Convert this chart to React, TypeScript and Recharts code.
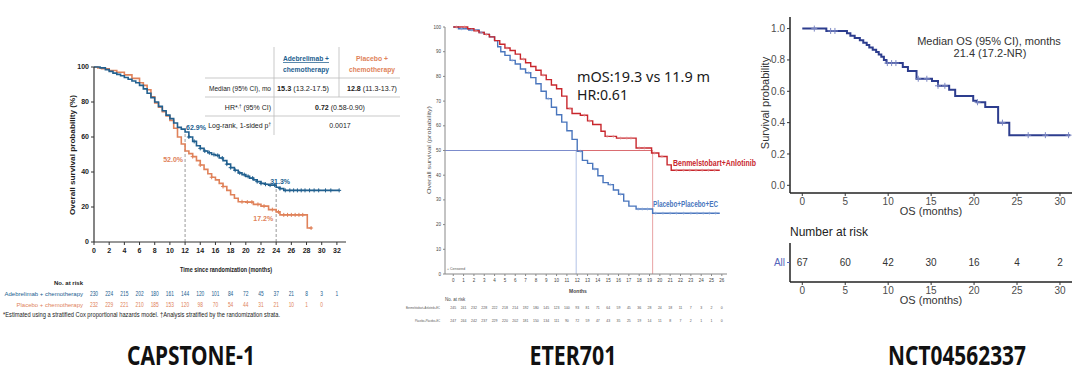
import React from 'react';
import {
  ComposedChart,
  Line,
  Scatter,
  XAxis,
  YAxis,
  ReferenceLine,
  ReferenceDot,
} from 'recharts';

// ---------- CAPSTONE-1 (months, OS %) ----------
const capAdeKm = [
  [0, 100], [0.8, 99.5], [1.5, 98.5], [2, 97.5], [2.5, 96.5], [3, 95.8], [3.5, 95], [4, 94],
  [4.5, 93], [5, 92], [5.5, 91], [6, 89.5], [6.5, 87.5], [7, 85], [7.5, 82.5], [8, 80],
  [8.5, 77.5], [9, 75], [9.5, 72.5], [10, 70.5], [10.5, 68], [11, 65.5], [11.5, 64.5],
  [12, 62.9], [12.5, 60], [13, 57.5], [13.5, 55], [14, 53.5], [14.5, 52], [15, 51],
  [15.5, 50], [16, 49.5], [16.5, 48], [17, 46.5], [17.5, 44.5], [18, 42.5], [18.5, 41],
  [19, 39.5], [19.5, 38.5], [20, 37.5], [20.5, 36.5], [21, 35.5], [21.5, 34.5], [22, 33.5],
  [22.5, 33], [23, 32.5], [24, 31.3], [24.5, 30.5], [25, 29.5], [32.3, 29.5],
];
const capPboKm = [
  [0, 100], [0.5, 99.5], [1, 99], [2, 98], [3, 97], [4, 95.5], [5, 93.5], [6, 91], [6.5, 89.5],
  [7, 87], [7.5, 83], [8, 79.5], [8.5, 77], [9, 74.5], [9.5, 72], [10, 69.5], [10.5, 65],
  [11, 60], [11.5, 56], [12, 52], [12.5, 50.5], [13, 48.8], [13.5, 46.5], [14, 44],
  [14.5, 41.5], [15, 39], [15.5, 37], [16, 35.5], [16.5, 33.5], [17, 31.7], [17.5, 29.5],
  [18, 27], [18.5, 25], [19, 23], [20, 22.8], [21, 21.5], [22, 20.5], [23, 18.5], [24, 17.2],
  [24.5, 15.5], [28, 15.5], [28.1, 8], [28.7, 8],
];
const capAdeCensor = [12.5, 13.2, 14, 14.6, 15.2, 15.8, 16.3, 16.9, 17.5, 18, 18.6, 19.2, 19.8, 20.3, 20.9, 21.5, 22, 22.6, 23.2, 23.8, 24.5, 25.2, 25.8, 26.3, 26.8, 27.3, 27.8, 28.4, 29, 29.6, 30.5, 31.2, 32.3];
const capPboCensor = [13, 14, 15.5, 17, 19.5, 20.2, 20.8, 21.6, 22.4, 23.5, 24.3, 25, 25.5, 26, 26.5, 27, 27.5, 28.6];
const capTicks = [0, 2, 4, 6, 8, 10, 12, 14, 16, 18, 20, 22, 24, 26, 28, 30, 32];
const capRiskAde = [230, 224, 215, 202, 180, 161, 144, 120, 101, 84, 72, 45, 37, 21, 8, 3, 1];
const capRiskPbo = [232, 229, 221, 210, 185, 153, 120, 98, 70, 54, 44, 31, 21, 10, 1, 0];
const capRiskLabels = ['No. at risk', 'Adebrelimab + chemotherapy', 'Placebo + chemotherapy'];

// ---------- ETER701 ----------
const eterBenKm = [
  [0, 100], [1.3, 100], [1.4, 99.3], [2, 98.5], [2.5, 97.8], [3, 97], [3.5, 96], [4, 94.5],
  [4.5, 93], [5, 91.5], [5.5, 90.5], [6, 89], [6.5, 87], [7, 85.5], [7.5, 84], [8, 82.5],
  [8.5, 80.5], [9, 78.7], [9.5, 76.5], [10, 75], [10.5, 72], [11, 67], [11.5, 65],
  [12.3, 64.3], [13, 62], [13.5, 60.5], [14.3, 57.8], [14.7, 55.7], [15.8, 55], [17.7, 51],
  [19.2, 49], [19.9, 47.6], [20.7, 44.2], [21.1, 42], [25.8, 42],
];
const eterPboKm = [
  [0, 100], [0.5, 99.3], [1.5, 98.8], [2.5, 97.8], [3, 97], [3.5, 96], [4, 94.5], [4.3, 92],
  [4.6, 90], [5, 88.5], [5.5, 86.5], [6, 85], [6.5, 83], [7, 81.5], [7.5, 79.5], [8, 77],
  [8.5, 74], [9, 71], [9.5, 67.5], [10, 64.5], [10.5, 61.5], [11, 58], [11.5, 54.5],
  [12, 49.7], [12.5, 46], [13, 44.8], [13.5, 42.5], [14, 39.8], [14.5, 37], [15, 36.2],
  [15.5, 34], [16, 32.3], [16.5, 29.5], [17, 27.5], [17.7, 26.3], [19.3, 24.6], [25.8, 24.6],
];
const eterBenCensor = [0.3, 1.1, 2.2, 3.2, 5.2, 6.8, 8.7, 11.3, 12.7, 13.2, 14.9, 15.5, 16.2, 16.8, 17.2, 18, 18.5, 19.5, 20.2, 21.6, 22.3, 22.9, 23.5, 24.1, 24.7, 25.3];
const eterPboCensor = [0.8, 1.8, 2.7, 5.7, 7.3, 9.2, 12.3, 13.7, 15.2, 16.2, 17.9, 18.3, 18.8, 19.6, 20.3, 21, 21.6, 22.3, 23, 23.6, 24.2, 24.8, 25.4];
const eterTicks = Array.from({ length: 27 }, (_, i) => i);
const eterYTicks = [0, 10, 20, 30, 40, 50, 60, 70, 80, 90, 100];
const eterRiskBen = [245, 241, 232, 228, 222, 218, 214, 192, 180, 145, 123, 100, 93, 81, 71, 64, 59, 45, 36, 28, 24, 18, 11, 7, 3, 2, 0];
const eterRiskPbo = [247, 244, 242, 237, 229, 220, 202, 181, 150, 134, 111, 90, 72, 59, 47, 43, 35, 25, 19, 14, 11, 8, 7, 2, 1, 1, 0];
const eterRiskLabels = ['', 'Benmelstobart+Anlotinib+EC', 'Placebo+Placebo+EC'];
const eterMedians = { ben: 19.3, pbo: 11.9 };

// ---------- NCT04562337 ----------
const nctKm = [
  [0, 1], [2.8, 0.985], [5.2, 0.97], [5.6, 0.955], [6.1, 0.94], [6.7, 0.925], [7.1, 0.91],
  [7.5, 0.895], [7.8, 0.88], [8.2, 0.865], [8.6, 0.85], [8.9, 0.835], [9.2, 0.82], [9.5, 0.8],
  [9.8, 0.78], [11.7, 0.755], [12.3, 0.73], [13.3, 0.68], [15.1, 0.665], [15.8, 0.635],
  [17.1, 0.61], [17.8, 0.57], [19.9, 0.54], [20.3, 0.53], [21.3, 0.5], [22.8, 0.4],
  [24.1, 0.32], [31.2, 0.32],
];
const nctCensor = [1.4, 3.3, 3.8, 9.9, 10.4, 10.9, 13.5, 14.5, 15.8, 16.6, 20.4, 23.3, 26.3, 28.3, 31];
const nctTicks = [0, 5, 10, 15, 20, 25, 30];
const nctYTicks = [0, 0.2, 0.4, 0.6, 0.8, 1.0];
const nctRisk = [67, 60, 42, 30, 16, 4, 2];

type Pt = { t: number; s: number };
const toPts = (arr: number[][]): Pt[] => arr.map(([t, s]) => ({ t, s }));
const stepAt = (km: Pt[], t: number) => {
  let v = km[0].s;
  for (const p of km) {
    if (p.t <= t) v = p.s;
    else break;
  }
  return v;
};
const censorPts = (km: Pt[], times: number[]) => times.map((t) => ({ t, s: stepAt(km, t) }));
const riskRow = (months: number[], counts: number[], row: number) =>
  counts.map((n, i) => ({ t: months[i], row, n }));

const capAde = toPts(capAdeKm);
const capPbo = toPts(capPboKm);
const eterBen = toPts(eterBenKm);
const eterPbo = toPts(eterPboKm);
const nct = toPts(nctKm);

const CAP_BLUE = '#22608f';
const CAP_ORANGE = '#e0825a';
const ETER_RED = '#c8262c';
const ETER_BLUE = '#4a76bd';
const NCT_BLUE = '#2d3d8e';
const NARROW = "'Liberation Sans Narrow', 'Arial Narrow', 'Liberation Sans', Arial, sans-serif";
const SANS = "'Liberation Sans', Arial, sans-serif";

const plus = (color: string, size: number, width = 0.8) => (p: any) => (
  <path
    d={`M${p.cx - size},${p.cy}H${p.cx + size}M${p.cx},${p.cy - size}V${p.cy + size}`}
    stroke={color}
    strokeWidth={width}
    fill="none"
  />
);

const countText = (color: string, size: number, family: string) => (p: any) => (
  <text x={p.cx} y={p.cy} dy="0.35em" textAnchor="middle" fontSize={size} fill={color} fontFamily={family}>
    {p.payload.n}
  </text>
);

// narrow risk numbers (the original uses a condensed face)
const narrowCount = (color: string) => (p: any) => {
  const s = String(p.payload.n);
  return (
    <text x={p.cx} y={p.cy} dy="0.35em" textAnchor="middle" fontSize={7} fill={color} fontFamily={NARROW} textLength={s.length * 2.7} lengthAdjust="spacingAndGlyphs">
      {s}
    </text>
  );
};

const pctLabel = (text: string, color: string, dx: number, dy: number, anchor: string) => (p: any) => (
  <text x={p.cx + dx} y={p.cy + dy} textAnchor={anchor} fontSize={7} fontWeight={700} fill={color} fontFamily={NARROW}>
    {text}
  </text>
);

function CapRiskTick(props: any) {
  const { x, y, payload } = props;
  const i = payload.value as number;
  const fill = i === 0 ? '#222' : i === 1 ? CAP_BLUE : CAP_ORANGE;
  return (
    <text x={x - 3} y={y} dy="0.35em" textAnchor="end" fontSize={6} fontWeight={i === 0 ? 700 : 400} fill={fill} fontFamily={NARROW}>
      {capRiskLabels[i]}
    </text>
  );
}

function EterRiskTick(props: any) {
  const { x, y, payload } = props;
  const i = payload.value as number;
  return (
    <text x={x} y={y} dy="0.35em" textAnchor="end" fontSize={3.5} fill="#555" fontFamily={NARROW} textLength={i === 1 ? 34 : 25} lengthAdjust="spacingAndGlyphs">
      {eterRiskLabels[i]}
    </text>
  );
}

function NctRiskTick(props: any) {
  const { x, y } = props;
  return (
    <text x={x} y={y} dy="0.35em" textAnchor="end" fontSize={10} fill="#5566bb" fontFamily={SANS}>
      All
    </text>
  );
}

export default function App() {
  const abs = (left: number, top: number): React.CSSProperties => ({ position: 'absolute', left, top });
  return (
    <div style={{ position: 'fixed', left: 0, top: 0, width: 1080, height: 384, background: '#fff', overflow: 'hidden' }}>
      {/* CAPSTONE-1 */}
      <div style={abs(0, 0)}>
        <ComposedChart width={360} height={285} margin={{ top: 67, right: 14, left: 54, bottom: 0 }}>
          <XAxis
            type="number"
            dataKey="t"
            domain={[0, 33.2]}
            ticks={capTicks}
            interval={0}
            height={43}
            tickSize={3}
            tickMargin={3}
            axisLine={{ stroke: '#333', strokeWidth: 1.2 }}
            tickLine={{ stroke: '#333' }}
            tick={{ fontSize: 7, fill: '#222', fontWeight: 700, fontFamily: NARROW }}
          />
          <YAxis
            type="number"
            dataKey="s"
            domain={[0, 100]}
            ticks={[0, 20, 40, 60, 80, 100]}
            interval={0}
            width={40}
            tickSize={3}
            tickMargin={2}
            axisLine={{ stroke: '#333', strokeWidth: 1.2 }}
            tickLine={{ stroke: '#333' }}
            tick={{ fontSize: 7, fill: '#222', fontWeight: 700, fontFamily: NARROW }}
          />
          <ReferenceLine segment={[{ x: 12, y: 0 }, { x: 12, y: 62.9 }]} stroke="#999" strokeDasharray="3 2" />
          <ReferenceLine segment={[{ x: 24, y: 0 }, { x: 24, y: 31.3 }]} stroke="#999" strokeDasharray="3 2" />
          <Line data={capPbo} dataKey="s" type="stepAfter" stroke={CAP_ORANGE} strokeWidth={1.6} dot={false} isAnimationActive={false} />
          <Line data={capAde} dataKey="s" type="stepAfter" stroke={CAP_BLUE} strokeWidth={1.6} dot={false} isAnimationActive={false} />
          <Scatter data={censorPts(capPbo, capPboCensor)} shape={plus(CAP_ORANGE, 2, 1)} isAnimationActive={false} />
          <Scatter data={censorPts(capAde, capAdeCensor)} shape={plus(CAP_BLUE, 2, 1)} isAnimationActive={false} />
          <ReferenceDot x={12} y={62.9} r={0} shape={pctLabel('62.9%', CAP_BLUE, 1, -2, 'start')} />
          <ReferenceDot x={12} y={52} r={0} shape={pctLabel('52.0%', CAP_ORANGE, -2, 11, 'end')} />
          <ReferenceDot x={24} y={31.3} r={0} shape={pctLabel('31.3%', CAP_BLUE, -6, -3, 'start')} />
          <ReferenceDot x={24} y={17.2} r={0} shape={pctLabel('17.2%', CAP_ORANGE, -3, 9, 'end')} />
        </ComposedChart>
      </div>
      <div style={abs(0, 277)}>
        <ComposedChart width={360} height={34} margin={{ top: 6, right: 14, left: 0, bottom: 6 }}>
          <XAxis type="number" dataKey="t" domain={[0, 33.2]} hide />
          <YAxis
            type="number"
            dataKey="row"
            domain={[0, 2]}
            ticks={[0, 1, 2]}
            interval={0}
            reversed
            width={94}
            axisLine={false}
            tickLine={false}
            tick={<CapRiskTick />}
          />
          <Scatter data={riskRow(capTicks, capRiskAde, 1)} shape={narrowCount(CAP_BLUE)} isAnimationActive={false} />
          <Scatter data={riskRow(capTicks, capRiskPbo, 2)} shape={narrowCount(CAP_ORANGE)} isAnimationActive={false} />
        </ComposedChart>
      </div>

      {/* ETER701 */}
      <div style={abs(420, 0)}>
        <ComposedChart width={310} height={288} margin={{ top: 27, right: 3, left: 8, bottom: 0 }}>
          <XAxis
            type="number"
            dataKey="t"
            domain={[-0.8, 26.5]}
            ticks={eterTicks}
            interval={0}
            allowDataOverflow
            height={14}
            tickSize={2}
            tickMargin={3}
            axisLine={{ stroke: '#888' }}
            tickLine={{ stroke: '#888' }}
            tick={{ fontSize: 4.5, fill: '#444', fontFamily: NARROW }}
          />
          <YAxis
            type="number"
            dataKey="s"
            domain={[0, 100]}
            ticks={eterYTicks}
            interval={0}
            width={17}
            tickSize={2}
            tickMargin={2}
            axisLine={{ stroke: '#888' }}
            tickLine={{ stroke: '#888' }}
            tick={{ fontSize: 4.5, fill: '#444', fontFamily: NARROW }}
          />
          <ReferenceLine segment={[{ x: -0.8, y: 50 }, { x: eterMedians.pbo, y: 50 }]} stroke="#5a6fbf" strokeWidth={0.8} />
          <ReferenceLine segment={[{ x: eterMedians.pbo, y: 50 }, { x: eterMedians.ben, y: 50 }]} stroke="#d0484c" strokeWidth={0.8} />
          <ReferenceLine segment={[{ x: eterMedians.pbo, y: 0 }, { x: eterMedians.pbo, y: 50 }]} stroke="#9fb4e0" strokeWidth={0.8} />
          <ReferenceLine segment={[{ x: eterMedians.ben, y: 0 }, { x: eterMedians.ben, y: 50 }]} stroke="#e28a8c" strokeWidth={0.8} />
          <Line data={eterPbo} dataKey="s" type="stepAfter" stroke={ETER_BLUE} strokeWidth={1.4} dot={false} isAnimationActive={false} />
          <Line data={eterBen} dataKey="s" type="stepAfter" stroke={ETER_RED} strokeWidth={1.4} dot={false} isAnimationActive={false} />
          <Scatter data={censorPts(eterPbo, eterPboCensor)} shape={plus('#8aa6d8', 1.5, 0.6)} isAnimationActive={false} />
          <Scatter data={censorPts(eterBen, eterBenCensor)} shape={plus('#e08a8c', 1.5, 0.6)} isAnimationActive={false} />
        </ComposedChart>
      </div>
      <div style={abs(400, 304)}>
        <ComposedChart width={330} height={21} margin={{ top: 4, right: 3, left: 28, bottom: 4 }}>
          <XAxis type="number" dataKey="t" domain={[-0.8, 26.5]} hide />
          <YAxis
            type="number"
            dataKey="row"
            domain={[1, 2]}
            ticks={[1, 2]}
            interval={0}
            reversed
            width={17}
            tickSize={2}
            tickMargin={3}
            axisLine={false}
            tickLine={false}
            tick={<EterRiskTick />}
          />
          <Scatter data={riskRow(eterTicks, eterRiskBen, 1)} shape={countText('#555', 3.5, NARROW)} isAnimationActive={false} />
          <Scatter data={riskRow(eterTicks, eterRiskPbo, 2)} shape={countText('#555', 3.5, NARROW)} isAnimationActive={false} />
        </ComposedChart>
      </div>

      {/* NCT04562337 */}
      <div style={abs(750, 0)}>
        <ComposedChart width={330} height={223} margin={{ top: 17, right: 8, left: 0, bottom: 0 }}>
          <XAxis
            type="number"
            dataKey="t"
            domain={[-1.43, 31.4]}
            ticks={nctTicks}
            interval={0}
            allowDataOverflow
            height={30}
            tickSize={3}
            tickMargin={2}
            axisLine={{ stroke: '#222', strokeWidth: 1.5 }}
            tickLine={{ stroke: '#333' }}
            tick={{ fontSize: 10, fill: '#4d4d4d', fontFamily: SANS }}
          />
          <YAxis
            type="number"
            dataKey="s"
            domain={[-0.049, 1.074]}
            ticks={nctYTicks}
            interval={0}
            width={40}
            tickSize={3}
            tickMargin={2}
            tickFormatter={(v: number) => v.toFixed(1)}
            axisLine={{ stroke: '#222', strokeWidth: 1.5 }}
            tickLine={{ stroke: '#333' }}
            tick={{ fontSize: 10, fill: '#4d4d4d', fontFamily: SANS }}
          />
          <Line data={nct} dataKey="s" type="stepAfter" stroke={NCT_BLUE} strokeWidth={2} dot={false} isAnimationActive={false} />
          <Scatter data={censorPts(nct, nctCensor)} shape={plus('#7c88c4', 3, 1)} isAnimationActive={false} />
        </ComposedChart>
      </div>
      <div style={abs(750, 232)}>
        <ComposedChart width={330} height={80} margin={{ top: 11, right: 8, left: 0, bottom: 0 }}>
          <XAxis
            type="number"
            dataKey="t"
            domain={[-1.43, 31.4]}
            ticks={nctTicks}
            interval={0}
            height={30}
            tickSize={3}
            tickMargin={2}
            axisLine={{ stroke: '#222', strokeWidth: 1.5 }}
            tickLine={{ stroke: '#333' }}
            tick={{ fontSize: 10, fill: '#4d4d4d', fontFamily: SANS }}
          />
          <YAxis
            type="number"
            dataKey="row"
            domain={[0, 2]}
            ticks={[1]}
            interval={0}
            width={40}
            tickSize={3}
            tickMargin={2}
            axisLine={{ stroke: '#222', strokeWidth: 1.5 }}
            tickLine={{ stroke: '#5566bb' }}
            tick={<NctRiskTick />}
          />
          <Scatter data={riskRow(nctTicks, nctRisk, 1)} shape={countText('#333', 10, SANS)} isAnimationActive={false} />
        </ComposedChart>
      </div>

      {/* text overlay */}
      <svg width={1080} height={384} style={{ position: 'absolute', left: 0, top: 0, pointerEvents: 'none' }}>
        <g fontFamily={NARROW}>
          <text transform="translate(75,155) rotate(-90)" textAnchor="middle" fontSize={7} fontWeight={700} fill="#222" textLength={120} lengthAdjust="spacingAndGlyphs">
            Overall survival probability (%)
          </text>
          <text x={226} y={272} textAnchor="middle" fontSize={7.5} fontWeight={700} fill="#222" textLength={92} lengthAdjust="spacingAndGlyphs">
            Time since randomization (months)
          </text>
          {/* summary table */}
          <line x1={205} x2={400} y1={78} y2={78} stroke="#bbb" strokeWidth={0.8} />
          <line x1={205} x2={400} y1={97} y2={97} stroke="#bbb" strokeWidth={0.8} />
          <line x1={205} x2={400} y1={116} y2={116} stroke="#bbb" strokeWidth={0.8} />
          <line x1={274} x2={274} y1={47} y2={135} stroke="#bbb" strokeWidth={0.8} />
          <line x1={339} x2={339} y1={47} y2={97} stroke="#bbb" strokeWidth={0.8} />
          <text x={306} y={61} textAnchor="middle" fontSize={7.5} fontWeight={700} fill={CAP_BLUE} textDecoration="underline" textLength={46} lengthAdjust="spacingAndGlyphs">Adebrelimab +</text>
          <text x={306} y={72} textAnchor="middle" fontSize={7.5} fontWeight={700} fill={CAP_BLUE} textLength={46} lengthAdjust="spacingAndGlyphs">chemotherapy</text>
          <text x={372} y={61} textAnchor="middle" fontSize={7.5} fontWeight={700} fill={CAP_ORANGE} textLength={32} lengthAdjust="spacingAndGlyphs">Placebo +</text>
          <text x={372} y={72} textAnchor="middle" fontSize={7.5} fontWeight={700} fill={CAP_ORANGE} textLength={46} lengthAdjust="spacingAndGlyphs">chemotherapy</text>
          <text x={271} y={91} textAnchor="end" fontSize={7} fill="#222" textLength={62} lengthAdjust="spacingAndGlyphs">Median (95% CI), mo</text>
          <text x={303} y={91} textAnchor="middle" fontSize={7} fill="#222" textLength={52} lengthAdjust="spacingAndGlyphs"><tspan fontWeight={700}>15.3</tspan> (13.2-17.5)</text>
          <text x={372} y={91} textAnchor="middle" fontSize={7} fill="#222" textLength={50} lengthAdjust="spacingAndGlyphs"><tspan fontWeight={700}>12.8</tspan> (11.3-13.7)</text>
          <text x={271} y={110} textAnchor="end" fontSize={7} fill="#222">HR*<tspan fontSize={4.5} dy={-2}>,†</tspan><tspan dy={2}> (95% CI)</tspan></text>
          <text x={340} y={110} textAnchor="middle" fontSize={7} fill="#222"><tspan fontWeight={700}>0.72</tspan> (0.58-0.90)</text>
          <text x={271} y={128} textAnchor="end" fontSize={7} fill="#222">Log-rank, 1-sided p<tspan fontSize={4.5} dy={-2}>†</tspan></text>
          <text x={340} y={128} textAnchor="middle" fontSize={7} fill="#222">0.0017</text>
          <text x={3} y={317} fontSize={7} fill="#222" textLength={277} lengthAdjust="spacingAndGlyphs">
            *Estimated using a stratified Cox proportional hazards model. †Analysis stratified by the randomization strata.
          </text>
        </g>
        <g fontFamily={NARROW}>
          <text transform="translate(431,150) rotate(-90)" textAnchor="middle" fontSize={5} fill="#555" textLength={88} lengthAdjust="spacingAndGlyphs">
            Overall survival (probability)
          </text>
          <text x={578} y={293} textAnchor="middle" fontSize={5} fontWeight={700} fill="#444">Months</text>
          <text x={445} y={301} fontSize={4.5} fill="#444">No. at risk</text>
          <text x={447} y={270} fontSize={3.5} fill="#555">+ Censored</text>
          <text x={673} y={166} fontSize={9} fontWeight={700} fill={ETER_RED} textLength={83} lengthAdjust="spacingAndGlyphs">Benmelstobart+Anlotinib</text>
          <text x={653} y={207} fontSize={9} fontWeight={700} fill={ETER_BLUE} textLength={65} lengthAdjust="spacingAndGlyphs">Placebo+Placebo+EC</text>
        </g>
        <g fontFamily="'Noto Sans', 'Open Sans', sans-serif" fill="#1a1a1a">
          <text x={577} y={82} fontSize={15} textLength={133} lengthAdjust="spacingAndGlyphs">mOS:19.3 vs 11.9 m</text>
          <text x={577} y={100} fontSize={15} textLength={51} lengthAdjust="spacingAndGlyphs">HR:0.61</text>
        </g>
        <g fontFamily={SANS} fill="#333">
          <text transform="translate(769,103) rotate(-90)" textAnchor="middle" fontSize={11}>Survival probability</text>
          <text x={931} y={215} textAnchor="middle" fontSize={11}>OS (months)</text>
          <text x={989} y={45} textAnchor="middle" fontSize={11}>Median OS (95% CI), months</text>
          <text x={990} y={57} textAnchor="middle" fontSize={11}>21.4 (17.2-NR)</text>
          <text x={790} y={236} fontSize={12} fill="#222">Number at risk</text>
          <text x={931} y={304} textAnchor="middle" fontSize={11}>OS (months)</text>
        </g>
        <g fontFamily="'Noto Sans', 'Open Sans', sans-serif" fontWeight={700} fill="#111" fontSize={26}>
          <text x={191} y={365} textAnchor="middle" textLength={128} lengthAdjust="spacingAndGlyphs">CAPSTONE-1</text>
          <text x={573} y={365} textAnchor="middle" textLength={87} lengthAdjust="spacingAndGlyphs">ETER701</text>
          <text x={957} y={365} textAnchor="middle" textLength={138} lengthAdjust="spacingAndGlyphs">NCT04562337</text>
        </g>
      </svg>
    </div>
  );
}
